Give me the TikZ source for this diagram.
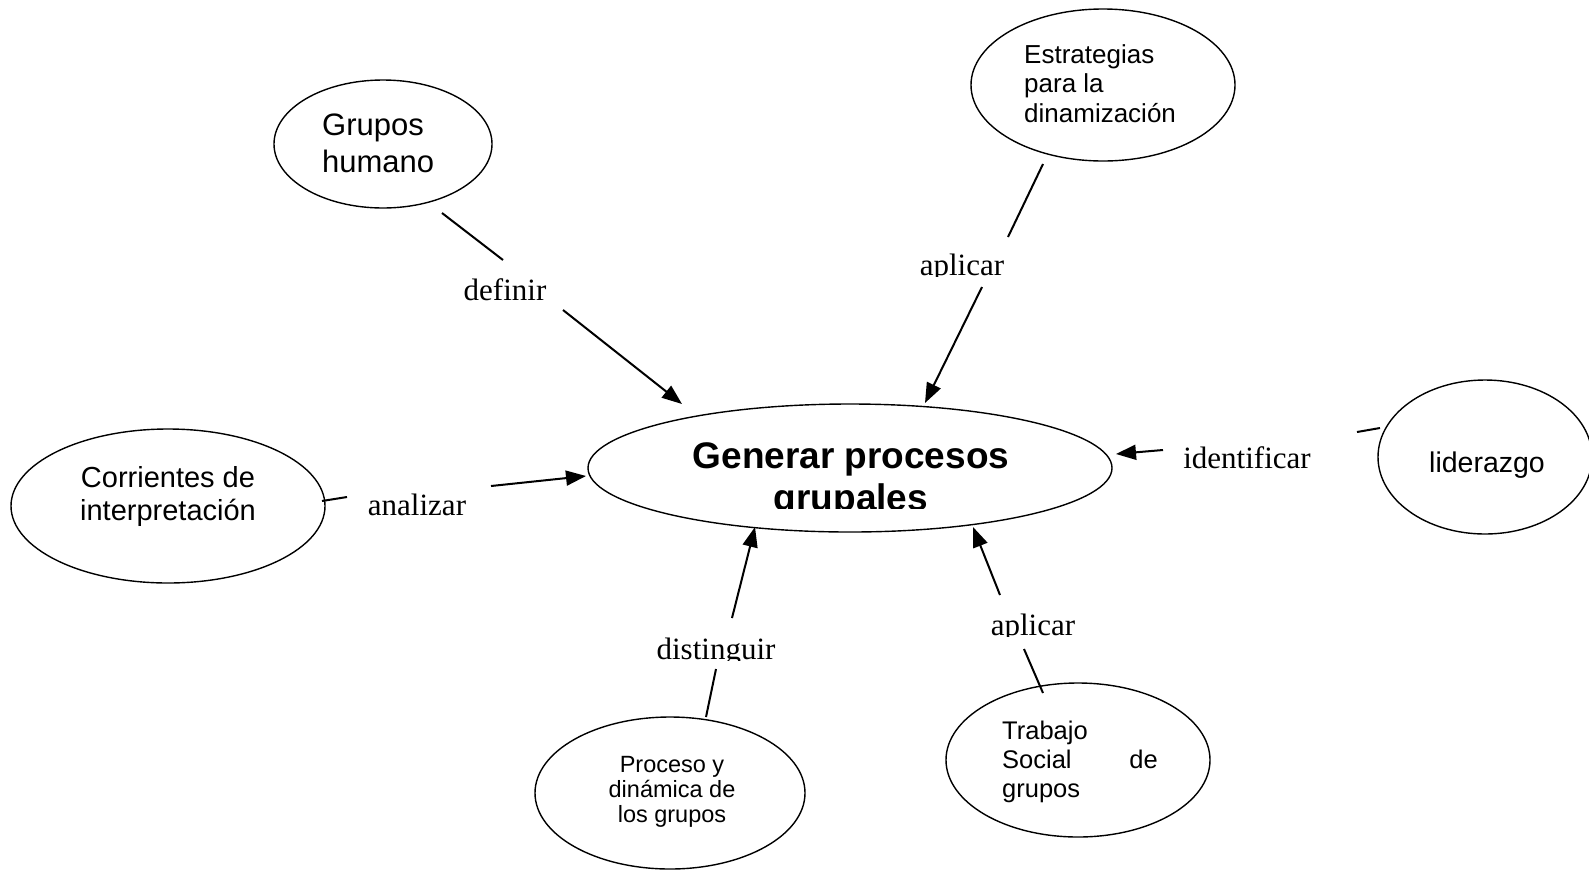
\documentclass[tikz,border=0pt]{standalone}
\usepackage{fontspec}
\setmainfont{Liberation Serif}
\newfontfamily\arialf{Liberation Sans}
\usetikzlibrary{shapes.geometric,arrows.meta}
\tikzset{
  bubble/.style={draw, ellipse, line width=1.4pt, inner sep=0pt, outer sep=0pt},
  conn/.style={line width=2pt},
  arr/.style={line width=2pt, -{Triangle[length=20pt,width=15pt]}},
  lbl/.style={font=\fontsize{31}{31}\selectfont, inner sep=0pt, anchor=base},
  txt/.style={font=\arialf\fontsize{#1}{#1}\selectfont, inner sep=0pt},
  btxt/.style={font=\arialf\bfseries\fontsize{#1}{#1}\selectfont, inner sep=0pt}
}
\begin{document}
\begin{tikzpicture}[x=1pt,y=-1pt]
\fill[white] (0,0) rectangle (1589,871);
\useasboundingbox (0,0) rectangle (1589,871);

% ellipses
\node[bubble, minimum width=218pt, minimum height=128pt] (gh) at (383,144) {};
\node[bubble, minimum width=264pt, minimum height=152pt] (est) at (1103,85) {};
\node[bubble, minimum width=214pt, minimum height=154pt] (lid) at (1485,457) {};
\node[bubble, minimum width=314pt, minimum height=154pt] (cor) at (168,506) {};
\node[bubble, minimum width=270pt, minimum height=152pt] (pro) at (670,793) {};
\node[bubble, minimum width=264pt, minimum height=154pt] (tra) at (1078,760) {};
\node[bubble, minimum width=524pt, minimum height=128pt] (gen) at (850,468) {};

% texts in ellipses
\node[txt=31, anchor=base west] (gh1) at (322,135) {Grupos};
\node[txt=31, anchor=base west] (gh2) at (322,172) {humano};
\node[txt=26, anchor=base west] (est1) at (1024,63) {Estrategias};
\node[txt=26, anchor=base west] (est2) at (1024,92) {para la};
\node[txt=26, anchor=base west] (est3) at (1024,122) {dinamización};
\node[txt=28.5, anchor=base] (lid1) at (1487,472) {liderazgo};
\node[txt=29, anchor=base] (cor1) at (168,487) {Corrientes de};
\node[txt=29, anchor=base] (cor2) at (168,520) {interpretación};
\node[txt=23.5, anchor=base] (pro1) at (672,772) {Proceso y};
\node[txt=23.5, anchor=base] (pro2) at (672,797) {dinámica de};
\node[txt=23.5, anchor=base] (pro3) at (672,822) {los grupos};
\node[txt=25.5, anchor=base west] (tra1) at (1002,739) {Trabajo};
\node[txt=25.5, anchor=base west] (tra2) at (1002,768) {Social};
\node[txt=25.5, anchor=base east] (tra3) at (1158,768) {de};
\node[txt=25.5, anchor=base west] (tra4) at (1002,797) {grupos};
\node[btxt=37, anchor=base] (gen1) at (851,468) {Generar procesos};
\begin{scope}
  \clip (650,480) rectangle (1050,508);
  \node[btxt=37, anchor=base] (gen2) at (851,510) {grupales};
\end{scope}

% labels
\node[lbl] (ldef) at (505,300) {definir};
\begin{scope}
  \clip (880,236) rectangle (1040,276);
  \node[lbl] (lap1) at (962,275) {aplicar};
\end{scope}
\node[lbl] (lide) at (1247,468) {identificar};
\node[lbl] (lana) at (417,515) {analizar};
\begin{scope}
  \clip (620,622) rectangle (810,660);
  \node[lbl] (ldis) at (716,659) {distinguir};
\end{scope}
\begin{scope}
  \clip (960,598) rectangle (1110,636);
  \node[lbl] (lap2) at (1033,635) {aplicar};
\end{scope}

% connector end points
\coordinate (d1) at (442,213); \coordinate (d2) at (503,260);
\coordinate (d3) at (563,310); \coordinate (d4) at (682,404);
\coordinate (a1) at (1043,164); \coordinate (a2) at (1008,237);
\coordinate (a3) at (982,287); \coordinate (a4) at (925,403);
\coordinate (i1) at (1380,428); \coordinate (i2) at (1357,432);
\coordinate (i3) at (1163,450); \coordinate (i4) at (1116,454);
\coordinate (n1) at (322,501); \coordinate (n2) at (347,497);
\coordinate (n3) at (491,486); \coordinate (n4) at (586,476);
\coordinate (s1) at (706,717); \coordinate (s2) at (716,669);
\coordinate (s3) at (732,618); \coordinate (s4) at (755,527);
\coordinate (b1) at (1043,693); \coordinate (b2) at (1024,649);
\coordinate (b3) at (1000,595); \coordinate (b4) at (973,527);

% connectors
\draw[conn] (d1) -- (d2); \draw[arr] (d3) -- (d4);
\draw[conn] (a1) -- (a2); \draw[arr] (a3) -- (a4);
\draw[conn] (i1) -- (i2); \draw[arr] (i3) -- (i4);
\draw[conn] (n1) -- (n2); \draw[arr] (n3) -- (n4);
\draw[conn] (s1) -- (s2); \draw[arr] (s3) -- (s4);
\draw[conn] (b1) -- (b2); \draw[arr] (b3) -- (b4);
\end{tikzpicture}
\end{document}
